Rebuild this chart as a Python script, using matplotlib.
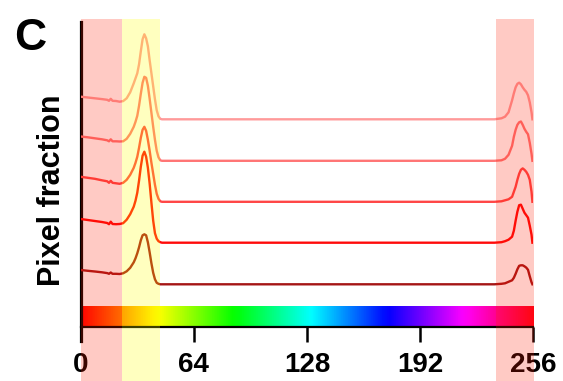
import numpy as np
import matplotlib
matplotlib.use('Agg')
import matplotlib.pyplot as plt
from matplotlib.patches import Rectangle
import matplotlib.transforms as mtransforms

plt.rcParams['font.family'] = ['Liberation Sans', 'DejaVu Sans']

# hue value (x axis)
hue = [0, 4, 8, 12, 15, 16, 17, 18, 20, 22, 24, 26, 28, 30, 31, 32, 33, 34, 35, 36,
       37, 38, 39, 40, 41, 42, 43, 44, 45, 46, 100, 150, 200, 234, 238, 240, 242, 244,
       245, 246, 247, 248, 249, 250, 251, 252, 253, 254, 255, 255.5]

# pixel fraction curves (arbitrary units, top curve first)
curve1 = [22.6, 21.8, 21, 20.2, 19.5, 18.5, 20.5, 18.5, 18.3, 17.6, 18.2, 21, 27, 36, 41, 46, 55, 68, 80, 85,
          81, 73, 59, 46, 33, 20, 9, 3, 0.5, 0, 0, 0, 0, 0, 1, 2.6, 7, 19,
          26, 32, 35.5, 36.6, 35, 32, 29.5, 27.5, 24, 17, 7, 0]
curve2 = [24.3, 23.5, 22.5, 21.5, 20.5, 19.5, 21.5, 19.5, 19.5, 19.3, 19.5, 22, 27, 34, 39, 45, 55, 67, 78, 84,
          83, 75, 62, 48, 34, 21, 10, 3.5, 0.5, 0, 0, 0, 0, 0, 0.5, 2, 6, 15,
          24, 31, 36, 38.5, 39.3, 36, 32, 29, 26.5, 18, 7, 0]
curve3 = [25, 24, 23, 21.5, 20.5, 19, 21, 19, 18.5, 18, 19, 22, 27, 34, 39, 45, 54, 64, 72, 75,
          71, 62, 51, 39, 28, 17, 8, 3, 0.5, 0, 0, 0, 0, 0, 0.5, 1.5, 2.5, 5,
          10, 15, 22, 28, 32, 33.4, 32, 30, 27, 22, 10, 0]
curve4 = [23.7, 22.7, 21.7, 20.7, 19.7, 18.5, 21, 18.7, 18.5, 18.7, 19.5, 23, 28.5, 36, 42, 50, 62, 76, 87, 91,
          86, 75, 59, 40, 22, 9.5, 4, 1.5, 0.5, 0, 0, 0, 0, 0, 0.5, 1.5, 3, 6,
          12, 22, 31, 37.5, 38, 34, 30, 27.5, 25, 17, 8, 0]
curve5 = [14.3, 13.5, 12.8, 12, 11.2, 10.5, 11.8, 10.5, 10.5, 10.3, 11, 13, 16.5, 22, 26, 31, 37, 44, 49, 50,
          49, 42, 32, 21, 11.5, 5, 1.5, 0.5, 0, 0, 0, 0, 0, 0, 0.5, 1, 2.5, 4,
          6.5, 10.5, 15, 18.5, 19, 19, 18, 16.7, 14.5, 8, 2, 0]

curves = [curve1, curve2, curve3, curve4, curve5]
offsets = [221.7, 180.2, 139.2, 98.3, 56.7]
colors = ['#FF9A9A', '#FF7575', '#FF4646', '#FF0A0A', '#A51515']

xticks = [0, 64, 128, 192, 256]
xtick_labels = ['0', '64', '128', '192', '256']

# highlighted hue ranges (overlay)
red_ranges = [(0, 23.2), (234.7, 256.5)]
yellow_ranges = [(23.2, 44.8)]

W, H = 563, 381
fig = plt.figure(figsize=(W / 100, H / 100), dpi=100)
ax = fig.add_axes([80.7 / W, 40 / H, 452.6 / W, 319 / H])

for c, off, col in zip(curves, offsets, colors):
    ax.plot(hue, np.array(c) + off, color=col, lw=1.7, zorder=3, solid_joinstyle='round')

# colour bar
bar_y0, bar_y1 = 14.5, 34
grad = np.linspace(0, 1, 512)[None, :]
ax.imshow(grad, cmap='hsv', extent=[0, 256, bar_y0, bar_y1], aspect='auto', zorder=2,
          interpolation='bilinear')

ax.set_xlim(0, 256)
ax.set_ylim(0, 319)

for s in ['top', 'right']:
    ax.spines[s].set_visible(False)
ax.spines['bottom'].set_position(('data', bar_y0))
ax.spines['bottom'].set_linewidth(1.6)
ax.spines['left'].set_linewidth(2.3)

ax.set_xticks(xticks)
ax.set_xticklabels(xtick_labels, fontweight='bold')
ax.tick_params(axis='x', direction='out', length=11, width=1.8, labelsize=20, pad=7)
ax.set_yticks([])

fig.text(52 / W, 1 - 190.5 / H, 'Pixel fraction', rotation=90, fontsize=22,
         fontweight='bold', ha='center', va='center')
fig.text(30 / W, 1 - 38 / H, 'C', fontsize=32, fontweight='bold', ha='center', va='center')

trans = mtransforms.blended_transform_factory(ax.transData, fig.transFigure)
top = 1 - 19 / H
for a, b in red_ranges:
    fig.add_artist(Rectangle((a, 0), b - a, top, transform=trans, facecolor=(1, 0.1, 0),
                             alpha=0.23, edgecolor='none', zorder=10))
for a, b in yellow_ranges:
    fig.add_artist(Rectangle((a, 0), b - a, top, transform=trans, facecolor=(1, 1, 0),
                             alpha=0.25, edgecolor='none', zorder=10))

fig.savefig('out.png', dpi=100)
